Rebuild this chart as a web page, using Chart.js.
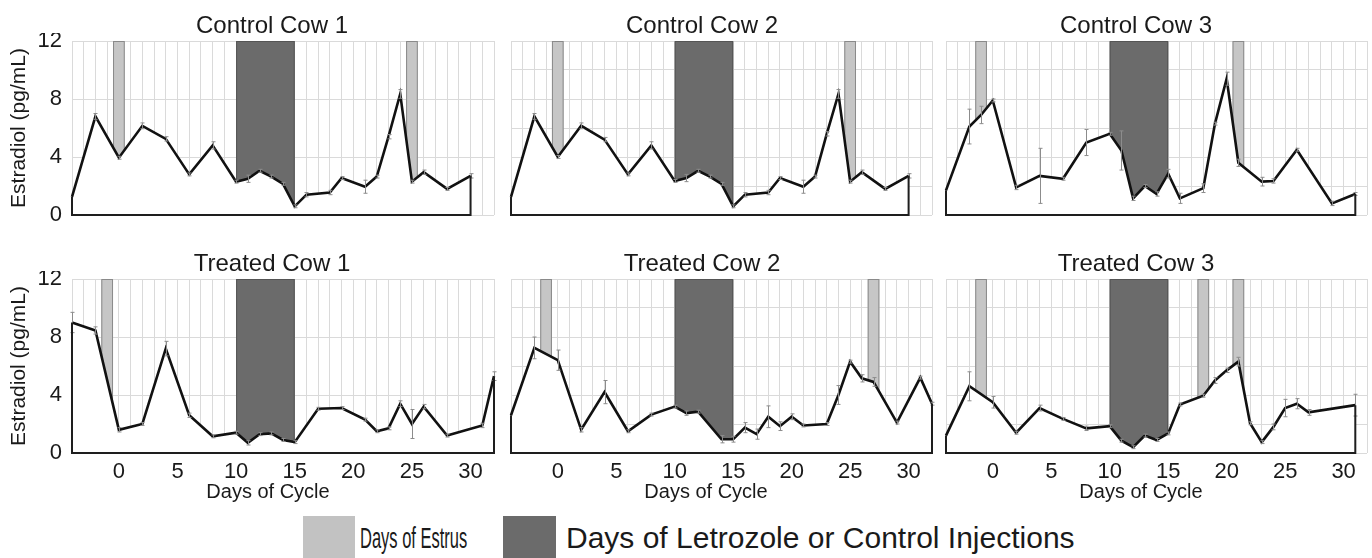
<!DOCTYPE html>
<html lang="en">
<head>
<meta charset="UTF-8">
<title>Estradiol over the cycle</title>
<script src="https://cdn.jsdelivr.net/npm/chart.js@4.4.1/dist/chart.umd.min.js"></script>
<style>
    html, body { margin: 0; padding: 0; background: #fff; }
    body {
        width: 1372px; height: 558px; position: relative; overflow: hidden;
        font-family: 'Liberation Sans', Arial, sans-serif; color: #1a1a1a;
    }
    canvas { position: absolute; }
    .ttl { position: absolute; font-size: 24px; line-height: 24px; white-space: nowrap; transform: translateX(-50%); }
    .xt { position: absolute; font-size: 20px; line-height: 20px; white-space: nowrap; transform: translateX(-50%); }
    .box { position: absolute; }
    .lg { position: absolute; font-size: 30px; line-height: 30px; white-space: nowrap; transform-origin: 0 0; }
</style>
</head>
<body>

<canvas id="c0"></canvas>
<canvas id="c1"></canvas>
<canvas id="c2"></canvas>
<canvas id="c3"></canvas>
<canvas id="c4"></canvas>
<canvas id="c5"></canvas>

<div class="ttl" style="left:272px; top:13px">Control Cow 1</div>
<div class="ttl" style="left:702px; top:13px">Control Cow 2</div>
<div class="ttl" style="left:1136px; top:13px">Control Cow 3</div>
<div class="ttl" style="left:272px; top:251px">Treated Cow 1</div>
<div class="ttl" style="left:702px; top:251px">Treated Cow 2</div>
<div class="ttl" style="left:1136px; top:251px">Treated Cow 3</div>

<div class="xt" style="left:268px; top:481px">Days of Cycle</div>
<div class="xt" style="left:706px; top:481px">Days of Cycle</div>
<div class="xt" style="left:1141px; top:481px">Days of Cycle</div>

<div class="box" style="left:303px; top:516px; width:52px; height:42px; background:#c2c2c2"></div>
<div class="lg" style="left:360px; top:523px; transform:scaleX(0.55)">Days of Estrus</div>
<div class="box" style="left:503px; top:516px; width:53px; height:42px; background:#6b6b6b"></div>
<div class="lg" style="left:566px; top:523px">Days of Letrozole or Control Injections</div>

<script>
    // x ticks every day, labels only on these days; y labels on these values
    const xLabelDays = [0, 5, 10, 15, 20, 25, 30];
    const yLabelValues = [0, 4, 8, 12];
    const injectionDays = [10, 15];

    // Control Cow 1
    const cc1Days = [-4, -2, 0, 2, 4, 6, 8, 10, 11, 12, 13, 14, 15, 16, 18, 19, 21, 22, 23, 24, 25, 26, 28, 30];
    const cc1Vals = [1.25, 6.8, 3.95, 6.15, 5.25, 2.8, 4.8, 2.3, 2.5, 3.05, 2.65, 2.15, 0.6, 1.4, 1.55, 2.55, 1.95, 2.65, 5.4, 8.35, 2.3, 2.95, 1.8, 2.7];
    const cc1Err = [0, 0.2, 0.1, 0.2, 0.15, 0.1, 0.25, 0.1, 0.25, 0.1, 0.1, 0.1, 0.1, 0.15, 0.15, 0.1, 0.45, 0.1, 0.15, 0.3, 0.1, 0.15, 0.1, 0.15];
    const cc1Estrus = [[-0.5, 0.5], [24.5, 25.5]];

    // Control Cow 2
    const cc2Days = [-4, -2, 0, 2, 4, 6, 8, 10, 11, 12, 13, 14, 15, 16, 18, 19, 21, 22, 23, 24, 25, 26, 28, 30];
    const cc2Vals = [1.25, 6.8, 4.0, 6.15, 5.2, 2.8, 4.8, 2.35, 2.55, 3.05, 2.65, 2.15, 0.6, 1.4, 1.55, 2.55, 1.95, 2.65, 5.6, 8.35, 2.3, 2.95, 1.8, 2.7];
    const cc2Err = [0, 0.2, 0.1, 0.2, 0.15, 0.1, 0.25, 0.1, 0.25, 0.1, 0.1, 0.1, 0.1, 0.15, 0.15, 0.1, 0.45, 0.1, 0.15, 0.3, 0.1, 0.15, 0.1, 0.15];
    const cc2Estrus = [[-0.5, 0.5], [24.5, 25.5]];

    // Control Cow 3
    const cc3Days = [-4, -2, -1, 0, 2, 4, 6, 8, 10, 11, 12, 13, 14, 15, 16, 18, 19, 20, 21, 23, 24, 26, 29, 31];
    const cc3Vals = [1.7, 6.1, 6.9, 7.9, 1.9, 2.7, 2.5, 5.0, 5.6, 4.45, 1.15, 2.0, 1.45, 2.85, 1.15, 1.85, 6.3, 9.4, 3.6, 2.3, 2.35, 4.5, 0.8, 1.45];
    const cc3Err = [0, 1.2, 0.6, 0.1, 0.15, 1.9, 0.1, 0.9, 0.1, 1.35, 0.15, 0.1, 0.15, 0.3, 0.35, 0.3, 0.1, 0.45, 0.25, 0.3, 0.15, 0.1, 0.15, 0.1];
    const cc3Estrus = [[-1.5, -0.5], [20.5, 21.5]];

    // Treated Cow 1
    const tc1Days = [-4, -2, 0, 2, 4, 6, 8, 10, 11, 12, 13, 14, 15, 17, 19, 21, 22, 23, 24, 25, 26, 28, 31, 32];
    const tc1Vals = [9.0, 8.45, 1.6, 2.0, 7.2, 2.6, 1.15, 1.4, 0.7, 1.3, 1.35, 0.9, 0.75, 3.05, 3.1, 2.3, 1.5, 1.7, 3.4, 2.0, 3.2, 1.2, 1.9, 5.3];
    const tc1Err = [0.7, 0.25, 0.15, 0.1, 0.5, 0.15, 0.1, 0.1, 0.15, 0.1, 0.1, 0.1, 0.1, 0.1, 0.1, 0.1, 0.1, 0.1, 0.2, 1.0, 0.15, 0.1, 0.15, 0.3];
    const tc1Estrus = [[-1.5, -0.5]];

    // Treated Cow 2
    const tc2Days = [-4, -2, 0, 2, 4, 6, 8, 10, 11, 12, 14, 15, 16, 17, 18, 19, 20, 21, 23, 24, 25, 26, 27, 29, 31, 32];
    const tc2Vals = [2.6, 7.25, 6.4, 1.6, 4.2, 1.5, 2.65, 3.2, 2.75, 2.85, 0.95, 0.95, 1.75, 1.3, 2.5, 1.85, 2.5, 1.9, 2.0, 4.0, 6.3, 5.15, 4.9, 2.1, 5.2, 3.4];
    const tc2Err = [0, 0.75, 0.7, 0.15, 0.8, 0.1, 0.1, 0.1, 0.15, 0.1, 0.25, 0.2, 0.35, 0.35, 0.75, 0.3, 0.2, 0.1, 0.1, 0.65, 0.1, 0.25, 0.3, 0.1, 0.1, 0.1];
    const tc2Estrus = [[-1.5, -0.5], [26.5, 27.5]];

    // Treated Cow 3
    const tc3Days = [-4, -2, 0, 2, 4, 6, 8, 10, 11, 12, 13, 14, 15, 16, 18, 19, 20, 21, 22, 23, 24, 25, 26, 27, 31];
    const tc3Vals = [1.2, 4.6, 3.5, 1.4, 3.1, 2.35, 1.7, 1.85, 0.85, 0.4, 1.2, 0.9, 1.35, 3.35, 3.95, 5.0, 5.7, 6.3, 2.05, 0.75, 1.8, 3.1, 3.4, 2.8, 3.3];
    const tc3Err = [0, 1.0, 0.4, 0.1, 0.2, 0.1, 0.15, 0.1, 0.1, 0.1, 0.1, 0.1, 0.1, 0.1, 0.1, 0.2, 0.15, 0.3, 0.1, 0.1, 0.2, 0.6, 0.35, 0.2, 0.75];
    const tc3Estrus = [[-1.5, -0.5], [17.5, 18.5], [20.5, 21.5]];

    const GRID = '#dadada';
    const LIGHT = '#c6c6c6';
    const DARK = '#6b6b6b';

    // canvas placement: plot areas are at x 72-494 / 511-932 / 946-1367, y 41-215 / 279-453
    const cols = [
        { left: 0, width: 502, yW: 72, padR: 8 },
        { left: 503, width: 437, yW: 8, padR: 8 },
        { left: 938, width: 434, yW: 8, padR: 5 }
    ];
    const rows = [
        { top: 33, height: 190, xH: 8 },
        { top: 271, height: 216, xH: 34 }
    ];

    const panels = [
        { days: cc1Days, vals: cc1Vals, err: cc1Err, estrus: cc1Estrus },
        { days: cc2Days, vals: cc2Vals, err: cc2Err, estrus: cc2Estrus },
        { days: cc3Days, vals: cc3Vals, err: cc3Err, estrus: cc3Estrus },
        { days: tc1Days, vals: tc1Vals, err: tc1Err, estrus: tc1Estrus },
        { days: tc2Days, vals: tc2Vals, err: tc2Err, estrus: tc2Estrus },
        { days: tc3Days, vals: tc3Vals, err: tc3Err, estrus: tc3Estrus }
    ];

    // bands under the curve, error bars and the closing edges of the area on top
    function overlay(p) {
        return {
            id: 'overlay',
            beforeDatasetsDraw(chart) {
                const { ctx, scales: { x, y } } = chart;
                const top = y.getPixelForValue(12), bot = y.getPixelForValue(0);
                ctx.save();
                const i0 = x.getPixelForValue(injectionDays[0]), i1 = x.getPixelForValue(injectionDays[1]);
                ctx.fillStyle = DARK;
                ctx.fillRect(i0, top, i1 - i0, bot - top);
                ctx.strokeStyle = '#555';
                ctx.lineWidth = 1;
                ctx.strokeRect(i0 + 0.5, top + 0.5, i1 - i0 - 1, bot - top - 1);
                p.estrus.forEach(([s, e]) => {
                    const a = x.getPixelForValue(s), b = x.getPixelForValue(e);
                    ctx.fillStyle = LIGHT;
                    ctx.fillRect(a, top, b - a, bot - top);
                    ctx.strokeStyle = '#8a8a8a';
                    ctx.strokeRect(a + 0.5, top + 0.5, b - a - 1, bot - top - 1);
                });
                ctx.restore();
            },
            afterDatasetsDraw(chart) {
                const { ctx, scales: { x, y } } = chart;
                ctx.save();
                // error bars
                ctx.strokeStyle = '#8c8c8c';
                ctx.lineWidth = 1;
                p.days.forEach((d, i) => {
                    const e = p.err[i];
                    if (!e) return;
                    const px = Math.round(x.getPixelForValue(d)) + 0.5;
                    const hi = y.getPixelForValue(p.vals[i] + e), lo = y.getPixelForValue(Math.max(0, p.vals[i] - e));
                    ctx.beginPath();
                    ctx.moveTo(px, hi); ctx.lineTo(px, lo);
                    ctx.moveTo(px - 2, hi); ctx.lineTo(px + 2, hi);
                    ctx.moveTo(px - 2, lo); ctx.lineTo(px + 2, lo);
                    ctx.stroke();
                });
                // area outline: sides and base
                const n = p.days.length;
                const xa = x.getPixelForValue(p.days[0]), xb = x.getPixelForValue(p.days[n - 1]);
                const y0 = y.getPixelForValue(0);
                ctx.strokeStyle = '#1e1e1e';
                ctx.lineWidth = 2;
                ctx.beginPath();
                ctx.moveTo(xa, y.getPixelForValue(p.vals[0]));
                ctx.lineTo(xa, y0);
                ctx.lineTo(xb, y0);
                ctx.lineTo(xb, y.getPixelForValue(p.vals[n - 1]));
                ctx.stroke();
                ctx.restore();
            }
        };
    }

    panels.forEach((p, k) => {
        const col = cols[k % 3], row = rows[Math.floor(k / 3)];
        const showY = k % 3 === 0, showX = k >= 3;
        const canvas = document.getElementById('c' + k);
        canvas.width = col.width;
        canvas.height = row.height;
        canvas.style.left = col.left + 'px';
        canvas.style.top = row.top + 'px';

        new Chart(canvas, {
            type: 'line',
            data: {
                datasets: [{
                    data: p.days.map((d, i) => ({ x: d, y: p.vals[i] })),
                    borderColor: '#111',
                    borderWidth: 2.6,
                    backgroundColor: '#fff',
                    fill: 'origin',
                    pointRadius: 0,
                    tension: 0,
                    clip: 6
                }]
            },
            options: {
                responsive: false,
                animation: false,
                events: [],
                layout: { padding: { top: 8, right: col.padR, bottom: 0, left: 0 } },
                plugins: { legend: { display: false }, tooltip: { enabled: false } },
                scales: {
                    x: {
                        type: 'linear', min: -4, max: 32,
                        border: { display: false },
                        grid: { color: GRID, lineWidth: 1, drawTicks: false },
                        ticks: {
                            display: showX, stepSize: 1, autoSkip: false, maxTicksLimit: 100, maxRotation: 0,
                            padding: 6, color: '#1a1a1a',
                            font: { family: "'Liberation Sans', Arial, sans-serif", size: 22 },
                            callback: v => xLabelDays.includes(v) ? String(v) : ''
                        },
                        afterFit: s => { s.height = row.xH; s.paddingLeft = 0; s.paddingRight = 0; }
                    },
                    y: {
                        min: 0, max: 12,
                        border: { display: false },
                        grid: { color: GRID, lineWidth: 1, drawTicks: false },
                        ticks: {
                            display: showY, stepSize: 2, padding: 10, color: '#1a1a1a',
                            font: { family: "'Liberation Sans', Arial, sans-serif", size: 22 },
                            callback: v => yLabelValues.includes(v) ? String(v) : ''
                        },
                        title: {
                            display: showY, text: 'Estradiol (pg/mL)', color: '#1a1a1a',
                            font: { family: "'Liberation Sans', Arial, sans-serif", size: 21 },
                            padding: { top: 7, bottom: 0 }
                        },
                        afterFit: s => { s.width = col.yW; s.paddingTop = 0; s.paddingBottom = 0; }
                    }
                }
            },
            plugins: [overlay(p)]
        });
    });
</script>
</body>
</html>
